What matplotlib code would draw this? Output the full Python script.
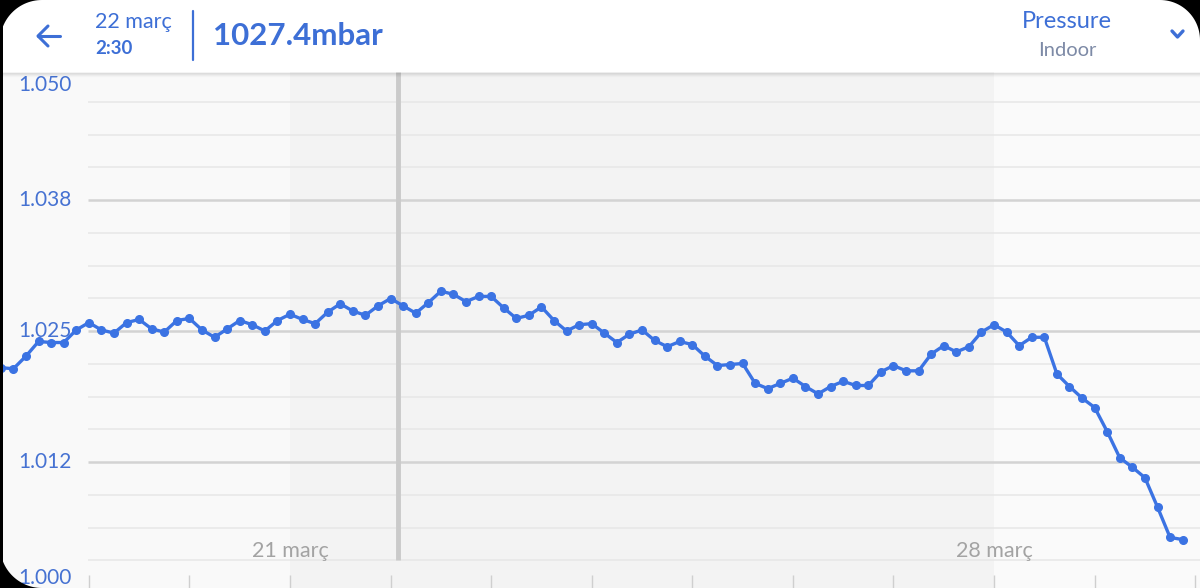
import numpy as np
import matplotlib
matplotlib.use("Agg")
import matplotlib.pyplot as plt
from matplotlib.patches import Rectangle, Polygon
from matplotlib.lines import Line2D
import matplotlib.transforms as mtransforms

plt.rcParams['font.family'] = ['Lato', 'DejaVu Sans']

# ---------------- data ----------------
# indoor pressure (mbar), one reading every 3 hours
pressure = [
    1021.5,
    1021.4, 1022.6, 1024.0, 1023.9, 1023.9, 1025.1, 1025.8, 1025.1,
    1024.8, 1025.8, 1026.1, 1025.2, 1024.9, 1026.0, 1026.2, 1025.1,
    1024.4, 1025.2, 1026.0, 1025.6, 1025.0, 1026.0, 1026.6, 1026.1,
    1025.7, 1026.8, 1027.6, 1026.9, 1026.5, 1027.4, 1028.1,
    1027.4, 1026.7, 1027.7, 1028.8, 1028.5, 1027.8, 1028.3, 1028.3,
    1027.2, 1026.2, 1026.5, 1027.3, 1026.0, 1025.0, 1025.6, 1025.7,
    1024.8, 1023.9, 1024.7, 1025.1, 1024.1, 1023.5, 1024.0, 1023.7,
    1022.6, 1021.7, 1021.8, 1021.9, 1020.0, 1019.5, 1020.0, 1020.5,
    1019.7, 1019.0, 1019.7, 1020.2, 1019.8, 1019.8, 1021.1, 1021.7,
    1021.2, 1021.2, 1022.8, 1023.6, 1023.0, 1023.5, 1024.9, 1025.6,
    1024.9, 1023.6, 1024.4, 1024.4, 1020.9, 1019.7, 1018.6, 1017.7,
    1015.4, 1012.9, 1012.0, 1011.0, 1008.2, 1005.3, 1005.1,
]
START_DAY = 18.125         # day-of-March of first reading
STEP_DAYS = 0.125          # 3 hours
times = START_DAY + STEP_DAYS * np.arange(len(pressure))

ytick_values = [1050, 1037.5, 1025, 1012.5, 1000]
ytick_labels = ["1.050", "1.038", "1.025", "1.012", "1.000"]
xtick_days = [21, 28]
xtick_labels = ["21 març", "28 març"]
day_ticks = list(range(19, 31))
week_band = (21, 28)
cursor_day = 22.074

header_date = "22 març"
header_time = "2:30"
header_value = "1027.4mbar"
header_title = "Pressure"
header_sub = "Indoor"

BLUE = '#3b73e3'
TXT_BLUE = '#3d6fd6'

# ---------------- figure ----------------
W, H = 1200, 588
fig = plt.figure(figsize=(W / 100, H / 100), dpi=100)
fig.patch.set_facecolor('white')

HEADER = 72
ax = fig.add_axes([0, 0, 1, (H - HEADER) / H])
PX_PER_DAY = 100.58
X0 = 21 - 290 / PX_PER_DAY
X1 = X0 + W / PX_PER_DAY
PX_PER_MB = 10.48
Y0 = 1000 + (593 - H) / PX_PER_MB
Y1 = 1000 + (593 - HEADER) / PX_PER_MB
ax.set_xlim(X0, X1)
ax.set_ylim(Y0, Y1)
ax.axis('off')

# backgrounds
ax.axvspan(X0, week_band[0], color='#f9f9f9', zorder=0, lw=0)
ax.axvspan(week_band[0], week_band[1], color='#f3f3f3', zorder=0, lw=0)
ax.axvspan(week_band[1], X1, color='#fafafa', zorder=0, lw=0)

# grid lines
grid_start = day_ticks[0]
for i in range(1, 16):
    v = 1000 + 3.125 * i
    if i % 4 == 0:
        ax.hlines(v, grid_start - 0.005, X1, color='#d3d3d3', lw=1.8, zorder=1)
    else:
        ax.hlines(v, grid_start - 0.005, X1, color='#e7e7e7', lw=1.1, zorder=1)

# bottom day ticks
tick_top = 1000 + (593 - 575) / PX_PER_MB
ax.vlines(day_ticks, Y0, tick_top, color='#cfcfcf', lw=1.0, zorder=2)

# cursor
ax.vlines(cursor_day, 1000 + (593 - 560) / PX_PER_MB, Y1, color='#cacaca', lw=3.5, zorder=2)

# x labels
label_y = 1000 + (593 - 551) / PX_PER_MB
for d, lab in zip(xtick_days, xtick_labels):
    ax.text(d, label_y, lab, ha='center', va='center', fontsize=15.5, color='#a3a3a3',
            zorder=3)

# y labels
lab_x = X0 + 18 / PX_PER_DAY
for v, lab in zip(ytick_values, ytick_labels):
    if v == ytick_values[0]:
        tr = ax.transData + mtransforms.ScaledTranslation(0, -16 / 100, fig.dpi_scale_trans)
    elif v == ytick_values[-1]:
        tr = ax.transData + mtransforms.ScaledTranslation(0, 15 / 100, fig.dpi_scale_trans)
    else:
        tr = ax.transData
    ax.text(lab_x, v, lab, ha='left', va='center', fontsize=15, color='#4672d2',
            transform=tr, zorder=3)

# data line
ax.plot(times, pressure, color=BLUE, lw=2.4, marker='o', ms=5.5, zorder=5,
        solid_joinstyle='round', clip_on=True)

# ---------------- header ----------------
def P(x, y):
    return (x / W, 1 - y / H)

tf = fig.transFigure
fig.add_artist(Rectangle(P(0, HEADER), 1, HEADER / H, transform=tf,
                         facecolor='white', edgecolor='none', zorder=3))
# soft shadow
for k, a in enumerate([0.10, 0.06, 0.035, 0.015]):
    fig.add_artist(Line2D([0, 1], [P(0, HEADER + k + 0.5)[1]] * 2, transform=tf,
                          color='black', alpha=a, lw=1, zorder=3))

def pline(xs, ys, **kw):
    pts = [P(x, y) for x, y in zip(xs, ys)]
    fig.add_artist(Line2D([p[0] for p in pts], [p[1] for p in pts], transform=tf,
                          zorder=4, solid_capstyle='round', solid_joinstyle='round', **kw))

# back arrow
pline([38, 60], [36, 36], color=TXT_BLUE, lw=2.2)
pline([48, 38, 48], [26, 36, 46], color=TXT_BLUE, lw=2.2)
# divider
pline([193, 193], [11, 60], color=TXT_BLUE, lw=1.6)
# chevron
pline([1172, 1177.5, 1183], [31, 37, 31], color=TXT_BLUE, lw=2.4)

fig.text(*P(95, 22), header_date, ha='left', va='center', fontsize=15.5, color=TXT_BLUE, zorder=4)
fig.text(*P(95, 48), header_time, ha='left', va='center', fontsize=13.5, fontweight='bold',
         color=TXT_BLUE, zorder=4)
fig.text(*P(213, 36), header_value, ha='left', va='center', fontsize=22.5, fontweight='bold',
         color=TXT_BLUE, zorder=4)
fig.text(*P(1067, 22), header_title, ha='center', va='center', fontsize=17, color=TXT_BLUE, zorder=4)
fig.text(*P(1067, 50), header_sub, ha='center', va='center', fontsize=14.5, color='#7d8aa6', zorder=4)

# ---------------- rounded screen corners ----------------
def corner(cx, cy, r, sx, sy):
    ang = np.linspace(0, np.pi / 2, 30)
    arc = [(cx + sx * r * np.cos(a), cy + sy * r * np.sin(a)) for a in ang]
    pts = arc + [(cx + sx * r, cy + sy * r)]
    fig.add_artist(Polygon([P(x, y) for x, y in pts], closed=True, transform=tf,
                           facecolor='black', edgecolor='none', zorder=10))

corner(42, 42, 42, -1, -1)
corner(W - 40, 40, 40, 1, -1)
corner(42, H - 42, 42, -1, 1)
fig.add_artist(Rectangle(P(0, H), 3 / W, 1, transform=tf, facecolor='black',
                         edgecolor='none', zorder=10))

fig.savefig('out.png', dpi=100, facecolor='white')
